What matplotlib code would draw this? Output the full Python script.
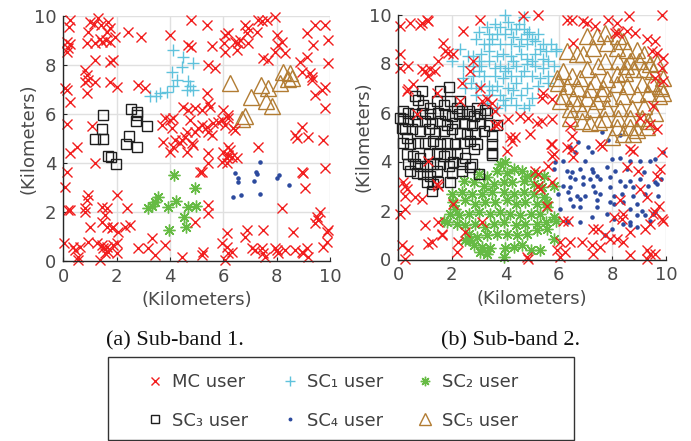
import numpy as np
import matplotlib
matplotlib.use('Agg')
import matplotlib.pyplot as plt
from matplotlib.lines import Line2D
from matplotlib.patches import Rectangle

# ---- user positions (km), sub-band 1 ----
mc_a = [
    (0.25, 9.82), (0.21, 9.55), (1.0, 9.76), (1.16, 9.66), (1.31, 9.89), (1.4, 9.62), (1.69, 9.76),
    (1.75, 9.48), (1.63, 9.35), (0.91, 9.35), (0.88, 8.9), (1.19, 8.87), (1.38, 9.05), (1.44, 8.94),
    (1.59, 9.0), (1.75, 8.94), (1.94, 9.14), (0.13, 8.94), (0.25, 8.84), (0.19, 8.67), (0.13, 8.53),
    (1.19, 8.19), (1.75, 8.12), (1.88, 8.19), (2.44, 9.35), (2.91, 9.12), (4.0, 9.21), (4.79, 9.82),
    (5.38, 9.62), (4.69, 8.8), (4.79, 8.73), (5.56, 8.76), (6.06, 9.21), (6.19, 9.28), (6.04, 8.87),
    (6.06, 8.53), (6.44, 8.94), (6.56, 8.87), (6.63, 9.0), (6.5, 8.6), (6.81, 9.62), (6.94, 9.48),
    (6.88, 9.28), (6.94, 8.87), (7.31, 9.82), (7.44, 9.79), (7.63, 9.82), (7.94, 9.96), (8.0, 9.21),
    (7.25, 9.35), (8.19, 8.94), (8.06, 8.8), (7.94, 8.53), (8.31, 8.46), (7.5, 8.26), (7.69, 8.19),
    (9.44, 9.62), (9.81, 9.62), (9.12, 9.28), (9.94, 9.0), (9.38, 8.8), (8.88, 8.12), (9.12, 8.33),
    (9.94, 8.05), (5.44, 8.0), (5.69, 7.85),
    (0.81, 7.78), (0.88, 7.58), (0.94, 7.37), (0.81, 7.31), (1.19, 7.31), (0.88, 6.83), (1.75, 7.31),
    (2.0, 7.1), (0.06, 7.03), (0.13, 6.97), (0.25, 6.49), (2.81, 7.17), (3.06, 7.03), (5.38, 6.83),
    (5.44, 6.42), (5.5, 6.29), (4.5, 6.29), (4.69, 6.15), (4.94, 6.22), (5.19, 6.15), (6.0, 6.15),
    (6.19, 5.95), (8.94, 7.71), (9.25, 7.65), (9.31, 7.51), (9.31, 7.37), (9.81, 7.1), (9.69, 6.97),
    (9.44, 6.76), (9.81, 6.22),
    (0.13, 5.6), (1.06, 5.5), (0.5, 4.65), (0.25, 4.38), (1.19, 3.97), (3.81, 5.81), (4.0, 5.74),
    (4.13, 5.81), (3.69, 5.54), (4.06, 5.4), (4.75, 5.74), (4.63, 5.27), (4.56, 5.06), (4.44, 4.92),
    (3.75, 4.86), (4.13, 4.65), (4.0, 4.45), (4.19, 4.93), (4.38, 4.79), (4.63, 4.45), (4.81, 4.79),
    (4.88, 4.72), (4.94, 5.27), (5.06, 5.4), (5.19, 5.54), (5.38, 5.47), (5.44, 5.27), (5.56, 5.13),
    (5.63, 5.61), (5.81, 5.67), (5.94, 5.74), (6.06, 5.54), (6.19, 5.81), (6.38, 5.4), (6.44, 5.33),
    (6.19, 4.65), (6.25, 4.52), (6.19, 4.31), (6.31, 4.24), (6.5, 4.18), (6.0, 4.45), (6.13, 4.18),
    (5.44, 4.38), (5.44, 3.97), (5.19, 3.63), (7.31, 4.65), (8.69, 5.13), (8.75, 4.99), (9.19, 5.06),
    (8.94, 5.47), (9.75, 4.92),
    (0.13, 3.63), (0.06, 3.02), (0.94, 2.68), (0.88, 2.48), (0.19, 2.07), (0.25, 2.07), (0.81, 2.14),
    (0.81, 2.0), (1.44, 2.2), (1.63, 2.14), (1.56, 1.86), (1.44, 1.59), (2.0, 2.68), (2.38, 2.14),
    (2.31, 1.39), (2.5, 1.46), (1.0, 1.39), (1.63, 1.39), (1.81, 1.32), (1.88, 1.39), (2.06, 1.18),
    (5.13, 3.63), (5.44, 2.27), (5.44, 1.93), (4.94, 1.59), (6.13, 3.97), (5.94, 4.04), (8.19, 2.14),
    (8.94, 3.63), (9.0, 3.56), (9.06, 2.95), (9.81, 3.77), (9.63, 2.0), (9.5, 1.8), (9.56, 1.66),
    (9.44, 1.52), (9.88, 1.18),
    (0.02, 0.71), (0.38, 0.57), (0.44, 0.44), (0.63, 0.57), (0.56, 0.16), (0.94, 0.78), (1.25, 0.71),
    (1.44, 0.64), (1.5, 0.5), (1.63, 0.57), (1.88, 0.64), (2.0, 0.71), (1.56, 0.3), (1.69, 0.37),
    (2.0, 0.3), (1.38, 0.03), (0.56, 0.03), (2.81, 0.5), (3.19, 0.5), (3.31, 0.91), (3.44, 0.23),
    (3.81, 0.64), (4.44, 0.16), (5.19, 0.23), (5.25, 0.37), (6.13, 1.12), (5.94, 0.71), (6.13, 0.57),
    (6.19, 0.3), (6.06, 0.03), (6.31, 0.37), (6.88, 1.25), (6.81, 0.98), (7.5, 1.25), (8.63, 1.18),
    (7.06, 0.5), (7.19, 0.44), (7.44, 0.5), (7.5, 0.3), (7.56, 0.16), (7.94, 0.5), (8.0, 0.44),
    (8.06, 0.3), (8.31, 0.44), (8.69, 0.44), (8.94, 0.37), (9.0, 0.3), (9.13, 0.5), (9.19, 0.16),
    (9.75, 0.57), (9.88, 0.78), (9.94, 1.25),
]
sc1_a = [(4.13, 8.6), (4.5, 8.33), (4.44, 7.92), (4.88, 8.08), (4.06, 7.71), (4.25, 7.37), (4.13, 7.13),
         (4.69, 7.33), (4.75, 7.13), (4.63, 6.97), (4.88, 6.97), (3.25, 6.72), (3.48, 6.72), (3.63, 6.86),
         (3.88, 6.9)]
sc2_a = [(4.15, 3.5), (4.94, 2.95), (3.56, 2.61), (3.44, 2.38), (3.31, 2.24), (3.16, 2.14), (3.94, 2.2),
         (4.21, 2.45), (4.66, 2.2), (4.98, 2.24), (4.54, 1.8), (4.59, 1.36), (3.98, 1.25)]
sc3_a = [(1.5, 5.93), (1.45, 5.39), (1.19, 4.95), (1.48, 4.95), (1.66, 4.27), (1.79, 4.24), (1.96, 3.93),
         (2.54, 6.18), (2.75, 6.07), (2.73, 5.71), (3.13, 5.5), (2.46, 5.09), (2.35, 4.75), (2.78, 4.65),
         (2.75, 5.95)]
sc4_a = [(7.38, 4.04), (6.44, 3.59), (6.54, 3.39), (6.56, 3.22), (7.15, 3.27), (7.21, 3.63), (7.25, 3.54),
         (7.38, 2.71), (6.66, 2.68), (6.38, 2.59), (8.0, 3.39), (8.09, 3.5), (8.48, 3.07)]
sc5_a = [(6.25, 7.24), (7.41, 7.17), (7.69, 7.03), (7.04, 6.67), (7.6, 6.53), (7.81, 6.31), (8.13, 7.27),
         (8.25, 7.71), (8.5, 7.65), (8.56, 7.44), (8.41, 7.4), (6.81, 5.9), (6.69, 5.77)]

# ---- user positions (km), sub-band 2 ----
mc_b = [
    (0.06, 9.52), (0.44, 9.66), (0.81, 9.59), (0.87, 9.66), (1.06, 9.79), (1.12, 9.72), (1.68, 8.84),
    (1.74, 8.5), (1.87, 8.44), (2.06, 8.37), (2.43, 9.32), (3.05, 9.79), (4.67, 9.93), (0.06, 8.37),
    (0.06, 7.83), (0.37, 7.9), (0.87, 7.76), (1.0, 7.69), (1.12, 7.49), (1.18, 7.76), (1.37, 7.69),
    (1.5, 8.1), (0.56, 7.15), (0.37, 6.95), (0.31, 6.88), (1.43, 6.81), (2.37, 7.22), (2.68, 7.69),
    (2.8, 8.1), (3.05, 7.01), (3.12, 6.47), (3.3, 6.54), (3.49, 6.4), (3.61, 6.06), (4.11, 5.73),
    (4.55, 5.86), (4.86, 5.79), (3.74, 5.52), (4.17, 4.98), (4.36, 4.98), (4.92, 5.12),
    (5.23, 9.99), (6.29, 9.79), (6.48, 9.79), (6.91, 9.72), (7.04, 9.66), (7.35, 9.52), (7.85, 9.79),
    (8.16, 9.66), (8.6, 9.93), (9.84, 9.99), (8.1, 9.25), (8.22, 9.25), (8.53, 9.32), (8.85, 9.25),
    (6.54, 8.84), (9.28, 8.98), (9.59, 8.91), (9.47, 8.5), (9.66, 8.44), (9.9, 8.23), (9.84, 7.83),
    (9.9, 7.28), (9.59, 7.42), (9.53, 6.27), (5.42, 6.81), (5.36, 6.61), (5.73, 6.54), (5.17, 5.59),
    (5.36, 5.66), (5.73, 5.73), (6.42, 5.46), (6.48, 5.05), (9.03, 5.79), (9.41, 5.52), (9.66, 5.32),
    (4.24, 4.85), (4.05, 4.44), (0.19, 3.15), (0.25, 3.02), (0.31, 2.88), (0.25, 2.61), (0.62, 2.54),
    (0.87, 2.48), (1.43, 3.09), (1.5, 3.02), (2.06, 2.27), (0.25, 2.07), (0.06, 1.87), (1.0, 1.39),
    (1.5, 1.53), (1.62, 1.05), (1.62, 0.98), (2.49, 1.12), (3.12, 1.53), (1.12, 0.65), (1.25, 0.71),
    (2.24, 0.71), (2.18, 0.31), (0.12, 0.58), (0.37, 0.38), (0.25, 0.04), (4.8, 0.1), (4.86, 0.04),
    (5.73, 4.71), (5.73, 4.24), (6.29, 4.58), (6.48, 4.51), (6.54, 4.17), (7.54, 4.71), (7.6, 4.64),
    (8.66, 4.51), (8.78, 4.44), (9.84, 4.37), (8.53, 3.76), (8.97, 3.63), (9.66, 3.42), (9.78, 3.7),
    (5.11, 3.63), (5.23, 3.02), (5.73, 3.15), (5.29, 2.88), (5.54, 2.2), (9.03, 2.88), (9.28, 2.54),
    (8.28, 2.41), (9.72, 2.2), (9.59, 1.93), (9.84, 1.66), (9.9, 1.59), (6.17, 1.59), (6.35, 1.59),
    (7.29, 1.26), (7.47, 1.26), (7.72, 0.98), (8.04, 1.73), (8.35, 1.66), (8.41, 1.87), (8.66, 1.12),
    (9.22, 1.26), (9.41, 1.46), (9.53, 1.87), (6.04, 0.71), (6.42, 0.71), (6.85, 0.71), (7.23, 0.58),
    (7.54, 0.51), (7.91, 0.85), (8.16, 0.85), (8.41, 0.71), (5.92, 0.38), (6.23, 0.31), (6.04, 0.1),
    (7.29, 0.24), (8.66, 0.17), (9.28, 0.38), (9.41, 0.24), (9.59, 0.24), (9.28, 0.02),
    (5.7, 4.7), (5.8, 4.3), (5.6, 3.8), (5.2, 3.5), (2.31, 6.47), (0.69, 5.93), (1.12, 4.03), (3.6, 5.5),
]
sc1_b = [
    (4.0, 10.0), (4.7, 9.9), (4.1, 9.7), (3.6, 9.6), (3.3, 9.5), (3.8, 9.5), (4.2, 9.4), (4.4, 9.4),
    (4.7, 9.4), (4.9, 9.3), (5.2, 9.2), (3.4, 9.2), (3.7, 9.2), (4.0, 9.2), (4.3, 9.1), (4.6, 9.0),
    (4.8, 9.2), (2.9, 9.0), (3.2, 8.8), (3.4, 8.8), (3.8, 8.8), (4.2, 8.8), (4.5, 8.7), (4.8, 8.8),
    (5.1, 8.9), (5.4, 8.8), (5.7, 8.8), (5.9, 8.6), (2.6, 8.3), (2.8, 8.3), (3.1, 8.4), (3.4, 8.5),
    (3.7, 8.3), (3.9, 8.4), (4.2, 8.3), (4.6, 8.4), (4.8, 8.2), (5.1, 8.4), (5.4, 8.2), (5.6, 8.1),
    (5.9, 8.5), (2.0, 8.1), (2.4, 7.9), (2.8, 7.9), (3.1, 7.9), (3.4, 8.1), (3.8, 7.9), (4.1, 7.8),
    (4.4, 7.9), (4.8, 8.0), (5.1, 7.9), (5.4, 7.8), (5.8, 7.9), (2.4, 7.4), (2.8, 7.5), (3.2, 7.5),
    (3.6, 7.5), (3.9, 7.4), (4.2, 7.5), (4.6, 7.5), (5.0, 7.5), (5.3, 7.4), (5.6, 7.5), (3.1, 7.1),
    (3.4, 7.1), (3.7, 7.1), (4.1, 7.0), (4.4, 7.2), (4.8, 7.0), (5.2, 7.1), (3.4, 6.7), (3.8, 6.7),
    (4.2, 6.6), (4.6, 6.7), (5.0, 6.6), (3.7, 6.2), (4.0, 6.3), (4.4, 6.3), (4.7, 6.2), (2.9, 7.0),
    (2.7, 7.2), (3.3, 6.4), (2.9, 6.7), (3.0, 9.3), (3.5, 9.0), (4.5, 9.6), (5.0, 9.0), (5.5, 8.5),
    (2.3, 8.6), (3.0, 8.1), (3.6, 7.8), (4.3, 8.1), (5.0, 8.1), (5.6, 7.2), (2.5, 7.0), (3.0, 7.7),
    (4.0, 7.7), (4.7, 7.7), (5.3, 8.6), (3.5, 6.9), (4.3, 6.9), (4.9, 6.3), (3.9, 6.5),
]
sc2_b = [
    (4.0, 3.96), (3.69, 3.62), (4.31, 3.69), (4.63, 3.62), (5.06, 3.49), (5.44, 3.42), (3.0, 3.49),
    (3.31, 3.35), (2.44, 3.22), (2.81, 3.15), (3.19, 3.01), (3.56, 3.08), (3.94, 3.15), (4.25, 3.15),
    (4.69, 3.22), (5.06, 3.08), (5.38, 2.95), (5.81, 3.01), (2.0, 2.68), (2.38, 2.74), (2.75, 2.68),
    (3.13, 2.68), (3.5, 2.74), (3.94, 2.74), (4.31, 2.68), (4.69, 2.74), (5.06, 2.68), (5.44, 2.54),
    (2.06, 2.34), (2.5, 2.41), (2.88, 2.27), (3.25, 2.34), (3.63, 2.34), (4.06, 2.41), (4.38, 2.27),
    (4.75, 2.34), (5.19, 2.27), (5.56, 2.34), (1.94, 1.86), (2.25, 1.8), (2.63, 1.86), (3.0, 1.93),
    (3.44, 1.86), (3.81, 1.93), (4.19, 1.86), (4.56, 1.8), (4.94, 1.86), (5.31, 1.86), (5.81, 1.73),
    (1.81, 1.53), (2.19, 1.46), (2.5, 1.39), (2.88, 1.46), (3.25, 1.32), (3.56, 1.46), (3.94, 1.53),
    (4.38, 1.39), (4.75, 1.46), (5.19, 1.46), (5.5, 1.53), (5.88, 1.59), (2.63, 1.05), (2.94, 0.92),
    (3.31, 0.99), (3.69, 1.05), (4.06, 1.05), (4.44, 0.99), (4.81, 1.05), (5.19, 1.19), (5.56, 1.26),
    (5.81, 0.85), (2.81, 0.58), (3.13, 0.51), (3.44, 0.45), (4.0, 0.45), (4.31, 0.51), (4.63, 0.58),
    (4.94, 0.38), (5.31, 0.38), (3.94, 0.11), (3.31, 0.24), (3.06, 0.31), (2.69, 0.78), (2.5, 0.78),
    (3.81, 3.89), (4.06, 3.55), (4.81, 3.42), (5.56, 2.14), (1.69, 1.59), (2.13, 2.07),
]
sc3_b = [
    (1.88, 7.03), (2.31, 6.46), (1.56, 6.86), (0.88, 6.86), (0.63, 6.66), (0.75, 6.53), (0.94, 6.32),
    (1.19, 6.19), (1.44, 6.46), (1.69, 6.32), (1.94, 6.46), (2.19, 6.19), (2.38, 6.05), (2.63, 6.05),
    (2.94, 6.19), (3.25, 6.12), (0.19, 6.05), (0.38, 5.99), (0.63, 5.92), (0.88, 5.99), (1.19, 5.92),
    (1.5, 5.99), (1.75, 5.92), (2.0, 5.85), (2.25, 5.92), (2.56, 5.92), (2.81, 5.85), (3.06, 5.92),
    (3.31, 5.99), (0.19, 5.72), (0.38, 5.65), (0.69, 5.65), (1.0, 5.65), (1.25, 5.58), (1.56, 5.65),
    (1.81, 5.51), (2.13, 5.58), (2.44, 5.58), (2.75, 5.51), (3.06, 5.58), (3.38, 5.51), (3.69, 5.51),
    (0.25, 5.31), (0.5, 5.31), (0.81, 5.24), (1.13, 5.31), (1.38, 5.18), (1.69, 5.24), (2.0, 5.31),
    (2.31, 5.18), (2.56, 5.11), (2.88, 5.18), (3.19, 5.24), (3.5, 5.04), (0.19, 4.77), (0.44, 4.7),
    (0.75, 4.77), (1.0, 4.77), (1.31, 4.84), (1.56, 4.7), (1.81, 4.77), (2.13, 4.7), (2.44, 4.77),
    (2.69, 4.84), (2.94, 4.7), (3.5, 4.7), (0.31, 4.3), (0.56, 4.23), (0.81, 4.16), (1.13, 4.3),
    (1.44, 4.36), (1.69, 4.23), (1.94, 4.3), (2.19, 4.36), (2.5, 4.16), (2.81, 4.5), (3.5, 4.36),
    (3.5, 4.27), (0.38, 3.89), (0.63, 3.89), (0.81, 3.82), (1.06, 3.82), (1.31, 3.89), (1.56, 3.89),
    (1.88, 3.82), (2.06, 3.96), (2.38, 3.89), (2.75, 3.89), (0.44, 3.62), (0.69, 3.55), (0.94, 3.49),
    (1.19, 3.42), (1.44, 3.62), (2.0, 3.55), (2.38, 3.62), (2.69, 3.76), (3.0, 3.49), (1.06, 3.15),
    (1.31, 3.08), (1.5, 3.15), (1.94, 3.15), (1.25, 2.81), (0.06, 5.78), (0.13, 5.38), (0.31, 4.97),
]
sc4_b = [
    (7.85, 4.89), (6.73, 4.78), (7.23, 4.37), (6.42, 4.58), (5.85, 3.99), (6.17, 4.03), (6.98, 4.03),
    (7.97, 4.1), (8.28, 4.13), (8.66, 4.03), (9.03, 4.03), (9.41, 4.03), (9.59, 4.1), (5.82, 3.7),
    (6.29, 3.63), (6.48, 3.56), (6.79, 3.7), (7.23, 3.7), (7.29, 3.56), (7.79, 3.76), (8.1, 3.63),
    (8.53, 3.7), (9.16, 3.56), (6.42, 3.36), (6.6, 3.29), (6.91, 3.36), (7.16, 3.29), (7.41, 3.42),
    (7.54, 3.29), (7.91, 3.36), (8.28, 3.22), (8.66, 3.22), (9.03, 3.29), (9.59, 3.15), (6.17, 3.02),
    (6.42, 2.95), (6.91, 3.09), (7.29, 3.02), (7.91, 2.95), (8.47, 3.02), (8.78, 2.95), (9.34, 3.02),
    (9.66, 3.09), (5.98, 2.68), (6.35, 2.75), (6.66, 2.61), (6.98, 2.61), (7.35, 2.75), (7.54, 2.68),
    (8.04, 2.61), (8.35, 2.68), (8.78, 2.61), (9.22, 2.68), (6.42, 2.48), (6.79, 2.48), (7.41, 2.41),
    (7.91, 2.34), (8.41, 2.34), (8.91, 2.27), (6.04, 2.07), (6.54, 2.2), (6.79, 2.14), (7.41, 2.14),
    (8.04, 2.27), (8.66, 2.07), (9.09, 2.0), (9.59, 1.93), (6.29, 1.59), (6.35, 1.53), (6.79, 1.53),
    (7.23, 1.73), (7.79, 1.87), (8.04, 1.66), (8.66, 1.53), (8.91, 1.8), (9.22, 1.8), (9.53, 1.87),
    (7.97, 1.26), (8.41, 1.46), (8.66, 1.39), (8.91, 1.32), (7.72, 0.98), (9.41, 1.59), (7.6, 5.2),
    (8.3, 5.1), (7.1, 4.6), (6.6, 4.4), (9.8, 3.3), (9.9, 4.4), (9.7, 2.6),
]
sc5_b = [
    (7.04, 9.11), (7.41, 9.11), (7.72, 9.25), (8.22, 9.11), (8.41, 8.91), (7.79, 8.84), (7.29, 8.64),
    (6.66, 8.37), (6.29, 8.5), (6.91, 8.37), (8.16, 8.64), (8.53, 8.57), (8.91, 8.57), (9.16, 8.37),
    (9.41, 7.96), (9.66, 8.03), (8.66, 8.1), (8.22, 8.1), (7.72, 8.1), (7.47, 7.89), (7.04, 7.76),
    (6.17, 7.69), (5.92, 7.42), (6.48, 7.49), (6.79, 7.42), (7.35, 7.28), (7.79, 7.35), (8.16, 7.56),
    (8.47, 7.62), (8.78, 7.76), (9.16, 7.76), (9.53, 7.69), (9.9, 7.42), (5.98, 7.22), (6.29, 7.08),
    (6.73, 7.01), (7.16, 6.95), (7.66, 7.01), (8.16, 7.15), (8.53, 7.08), (9.09, 7.15), (9.47, 7.22),
    (9.78, 7.08), (6.17, 6.67), (6.54, 6.61), (7.04, 6.61), (7.41, 6.47), (7.91, 6.61), (8.41, 6.67),
    (8.91, 6.74), (9.34, 6.81), (9.72, 6.67), (6.42, 6.13), (6.85, 6.06), (7.29, 6.13), (7.79, 6.2),
    (8.28, 6.2), (8.72, 6.2), (9.16, 6.27), (6.85, 5.66), (7.16, 5.59), (7.72, 5.73), (8.22, 5.79),
    (8.66, 5.79), (9.09, 5.79), (8.16, 5.39), (8.66, 5.39), (9.34, 5.66), (8.41, 5.12), (8.78, 5.12),
    (6.42, 5.79), (6.04, 6.47), (9.8, 7.0), (9.9, 6.8), (9.6, 6.0), (9.3, 5.4), (7.5, 5.6), (6.7, 6.4),
    (8.9, 5.3), (8.5, 7.9), (9.0, 8.1), (7.6, 6.8), (8.0, 5.0),
]

# marker styles: (label, marker, color, size, face); (8, 2, 0) is an 8-spoke asterisk
styles = {
    'mc':  ('MC user',  'x', '#f21d1d', 6.5, 'none'),
    'sc1': ('SC₁ user', '+', '#5fc2dc', 9, 'none'),
    'sc2': ('SC₂ user', (8, 2, 0), '#66bb44', 8.5, 'none'),
    'sc3': ('SC₃ user', 's', '#1e1e1e', 7.5, 'none'),
    'sc4': ('SC₄ user', '.', '#2c4a9e', 4.5, '#2c4a9e'),
    'sc5': ('SC₅ user', '^', '#b27c33', 11, 'none'),
}

panels = [
    {'sc1': sc1_a, 'sc2': sc2_a, 'sc3': sc3_a, 'sc4': sc4_a, 'sc5': sc5_a, 'mc': mc_a},
    {'sc1': sc1_b, 'sc2': sc2_b, 'sc3': sc3_b, 'sc4': sc4_b, 'sc5': sc5_b, 'mc': mc_b},
]
captions = ['(a) Sub-band 1.', '(b) Sub-band 2.']

W, H = 691, 441
fig = plt.figure(figsize=(W / 100, H / 100), dpi=100)

axes_px = [(63.3, 15.7, 266.7, 245.0), (398.3, 14.5, 267.7, 245.0)]
tick_gray = '#4a4a4a'

for (px, py, pw, ph), data, cap in zip(axes_px, panels, captions):
    ax = fig.add_axes([px / W, 1 - (py + ph) / H, pw / W, ph / H])
    for key in ['sc1', 'sc2', 'sc3', 'sc4', 'sc5', 'mc']:
        label, m, c, ms, fc = styles[key]
        pts = np.array(data[key])
        ax.plot(pts[:, 0], pts[:, 1], linestyle='none', marker=m, color=c,
                markersize=ms, markerfacecolor=fc, markeredgewidth=1.0, clip_on=False)
    ax.set_xlim(0, 10)
    ax.set_ylim(0, 10)
    ax.set_xticks([0, 2, 4, 6, 8, 10])
    ax.set_yticks([0, 2, 4, 6, 8, 10])
    ax.grid(True, color='#e0e0e0', linewidth=1.0)
    ax.set_axisbelow(True)
    for s in ['top', 'right']:
        ax.spines[s].set_visible(False)
    for s in ['left', 'bottom']:
        ax.spines[s].set_color('#262626')
        ax.spines[s].set_linewidth(1.0)
    ax.tick_params(direction='in', length=3, width=0.8, color='#262626',
                   labelsize=13, labelcolor=tick_gray, pad=5)
    ax.set_xlabel('(Kilometers)', fontsize=13, color=tick_gray, labelpad=4)
    ax.set_ylabel('(Kilometers)', fontsize=13, color=tick_gray, labelpad=-3)
    fig.text((px + pw / 2 - 22) / W, 1 - 341 / H, cap, ha='center', va='center',
             fontsize=16, family='Liberation Serif', color='#111111')

# legend below both panels
handles = []
for key in ['mc', 'sc3', 'sc1', 'sc4', 'sc2', 'sc5']:
    label, m, c, ms, fc = styles[key]
    handles.append(Line2D([], [], linestyle='none', marker=m, color=c, markersize=ms * 0.8,
                          markerfacecolor=fc, markeredgewidth=1.0, label=label))
fig.legend(handles=handles, ncol=3, loc='upper left', bbox_to_anchor=(146 / W, 1 - 373 / H),
           frameon=False, fontsize=13, labelcolor='#404040', borderpad=0, borderaxespad=0,
           handlelength=1.0, handletextpad=0.45, columnspacing=1.8, labelspacing=1.15)
fig.add_artist(Rectangle((108 / W, 1 / H), 466 / W, 83 / H, transform=fig.transFigure,
                         fill=False, edgecolor='#333333', linewidth=1.0))

fig.savefig('out.png', dpi=100)
